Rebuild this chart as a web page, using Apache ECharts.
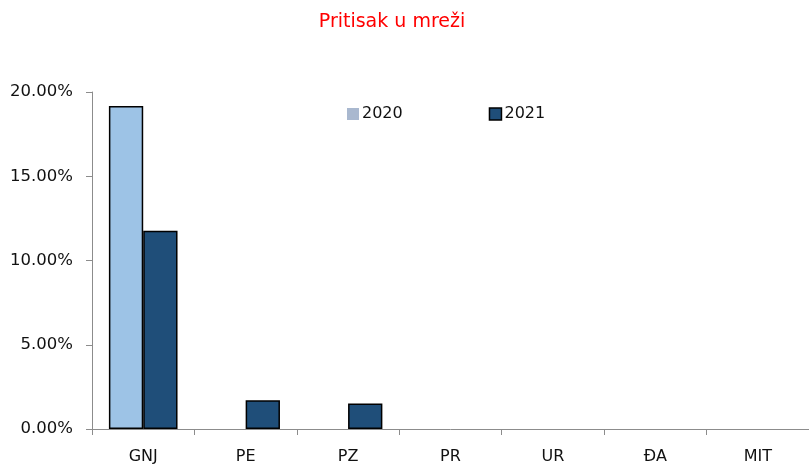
<!DOCTYPE html>
<html>
<head>
<meta charset="utf-8">
<script src="https://cdn.jsdelivr.net/npm/echarts@6/dist/echarts.min.js"></script>
<style>
  html, body { margin: 0; padding: 0; background: #fff; }
  #chart { width: 809px; height: 465px; }
</style>
</head>
<body>
<div id="chart"></div>
<script>
const categories = ['GNJ', 'PE', 'PZ', 'PR', 'UR', 'ĐA', 'MIT'];
const values2020 = [19.17, 0, 0, 0, 0, 0, 0];
const values2021 = [11.77, 1.71, 1.51, 0, 0, 0, 0];
const yTicks = [0, 5, 10, 15, 20];

const font = '"DejaVu Sans", "Noto Sans", sans-serif';
const chart = echarts.init(document.getElementById('chart'), null, { renderer: 'canvas' });

// zero values are not drawn as bars
const toData = (arr) => arr.map((v) => (v === 0 ? '-' : v));

chart.setOption({
  animation: false,
  title: {
    text: 'Pritisak u mreži',
    left: 387,
    textAlign: 'center',
    top: 8,
    textStyle: { color: '#ff0000', fontSize: 19, fontWeight: 'normal', fontFamily: font }
  },
  legend: {
    left: 342,
    top: 101,
    itemGap: 86,
    itemWidth: 12,
    itemHeight: 12,
    textStyle: { fontSize: 16, color: '#111', fontFamily: font, padding: [0, 0, 0, -2] },
    data: [
      { name: '2020', icon: 'rect', itemStyle: { color: '#a9b8cf', borderWidth: 0 } },
      { name: '2021', icon: 'rect', itemStyle: { color: '#1f4e79', borderColor: '#000', borderWidth: 1.5 } }
    ]
  },
  grid: { left: 92, right: -4, top: 92, bottom: 35.5 },
  xAxis: {
    type: 'category',
    data: categories,
    axisLine: { lineStyle: { color: '#8c8c8c', width: 1 } },
    axisTick: { show: true, length: 6, alignWithLabel: false, lineStyle: { color: '#8c8c8c' } },
    axisLabel: { color: '#111', fontSize: 16, fontFamily: font, margin: 20 }
  },
  yAxis: {
    type: 'value',
    min: yTicks[0],
    max: yTicks[yTicks.length - 1],
    interval: yTicks[1] - yTicks[0],
    splitLine: { show: false },
    axisLine: { show: true, lineStyle: { color: '#8c8c8c', width: 1 } },
    axisTick: { show: true, length: 6, lineStyle: { color: '#8c8c8c' } },
    axisLabel: {
      color: '#111', fontSize: 16.5, fontFamily: font, margin: 19,
      formatter: (v) => v.toFixed(2) + '%'
    }
  },
  series: [
    {
      name: '2020',
      type: 'bar',
      data: toData(values2020),
      barGap: '0%',
      barCategoryGap: '33%',
      itemStyle: { color: '#9dc3e6', borderColor: '#000', borderWidth: 1.5 }
    },
    {
      name: '2021',
      type: 'bar',
      data: toData(values2021),
      itemStyle: { color: '#1f4e79', borderColor: '#000', borderWidth: 1.5 }
    }
  ]
});
</script>
</body>
</html>
